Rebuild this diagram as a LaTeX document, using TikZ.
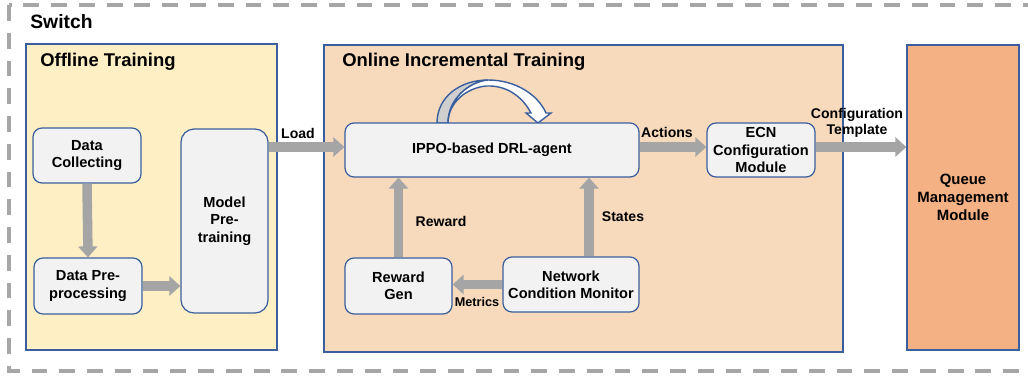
\documentclass[tikz,border=0pt]{standalone}
\usepackage{fontspec}
\setmainfont{Liberation Sans}
\usetikzlibrary{arrows.meta}

\definecolor{offfill}{HTML}{FFEFC4}
\definecolor{onfill}{HTML}{F7D9BB}
\definecolor{queuefill}{HTML}{F4B183}
\definecolor{boxblue}{HTML}{3B5F9E}
\definecolor{nodegray}{HTML}{F2F2F2}
\definecolor{arrowgray}{HTML}{A5A5A5}
\definecolor{dashgray}{HTML}{A6A6A6}
\definecolor{loopgray}{HTML}{CFCFCF}

\tikzset{
  box/.style={draw=boxblue, line width=0.7pt, fill=nodegray, rounded corners=0.18cm,
    align=center, inner sep=0pt, font=\fontsize{8.3}{9.9}\selectfont\bfseries},
  area/.style={draw=boxblue, line width=0.7pt},
  bigarrow/.style={draw=arrowgray, line width=1.9mm, -{Triangle[width=3.8mm,length=2.2mm]}},
  lbl/.style={inner sep=0pt, align=center, font=\fontsize{8}{9.2}\selectfont\bfseries},
  ttl/.style={anchor=west, inner sep=0pt, font=\fontsize{10.5}{12}\selectfont\bfseries},
}

\begin{document}
\begin{tikzpicture}[x=0.02cm,y=-0.02cm]
	%%%%% FRAME %%%%%
	\clip (0,0) rectangle (1028,379);
	\draw[dashgray, line width=2pt, dash pattern=on 9pt off 6.8pt] (9,5) rectangle (1060,371);
	\node[ttl, font=\fontsize{11}{13}\selectfont\bfseries] (switch) at (30,22) {Switch};
	
	%%%%% OFFLINE %%%%%
	\draw[area, fill=offfill] (26,44) rectangle (277,350);
	\node[ttl] (offtitle) at (40,62) {Offline Training};
	
	\node[box, minimum width=2.16cm, minimum height=1.1cm] (dc) at (87,155.5) {Data\\Collecting};
	\node[box, minimum width=2.16cm, minimum height=1.12cm] (dp) at (88,286) {Data Pre-\\processing};
	\node[box, rounded corners=0.26cm, minimum width=1.74cm, minimum height=3.68cm] (mp) at (224.5,221) {Model\\Pre-\\training};
	
	\draw[bigarrow] (dc.south) -- (dp.north);
	\draw[bigarrow] (dp.east) -- (dp.east -| mp.west);
	
	%%%%% ONLINE %%%%%
	\draw[area, fill=onfill] (324,45) rectangle (843,352);
	\node[ttl] (ontitle) at (342,62) {Online Incremental Training};
	
	% self loop over the agent
	\draw[boxblue, line width=0.8pt, fill=loopgray]
		(437,123) .. controls (437,97) and (460,80) .. (488,80)
		.. controls (468,82) and (448,100) .. (448,123) -- cycle;
	\draw[boxblue, line width=0.8pt, fill=white]
		(448,123) .. controls (448,100) and (468,82) .. (488,80)
		.. controls (516,80) and (538,95) .. (546,113)
		-- (551,113) -- (538,123) -- (526,113) -- (531,113)
		.. controls (522,96) and (506,85) .. (486,86)
		.. controls (466,88) and (448,103) .. (448,123) -- cycle;
	
	\node[box, minimum width=5.88cm, minimum height=1.08cm] (agent) at (492,150) {IPPO-based DRL-agent};
	\node[box, minimum width=2.16cm, minimum height=1.08cm] (ecn) at (761,150) {ECN\\Configuration\\Module};
	\node[box, minimum width=2.14cm, minimum height=1.12cm] (rg) at (398.5,286) {Reward\\Gen};
	\node[box, minimum width=2.72cm, minimum height=1.1cm] (ncm) at (571,284.5) {Network\\Condition Monitor};
	
	%%%%% QUEUE %%%%%
	\node[area, fill=queuefill, minimum width=2.24cm, minimum height=6.1cm, align=center,
		font=\fontsize{8.5}{10.4}\selectfont\bfseries] (qm) at (963,197.5) {Queue\\Management\\Module};
	
	%%%%% ARROWS %%%%%
	\coordinate (lane) at (0,147);
	\coordinate (stx) at (589,0);
	\draw[bigarrow] (mp.east |- lane) -- (agent.west |- lane);
	\draw[bigarrow] (agent.east |- lane) -- (ecn.west |- lane);
	\draw[bigarrow] (ecn.east |- lane) -- (qm.west |- lane);
	\draw[bigarrow] (rg.north) -- (rg.north |- agent.south);
	\draw[bigarrow] (stx |- ncm.north) -- (stx |- agent.south);
	\draw[bigarrow] (ncm.west) -- (ncm.west -| rg.east);
	
	\node[lbl] (load) at (298,133) {Load};
	\node[lbl] (actions) at (667,132) {Actions};
	\node[lbl] (template) at (857,123) {Configuration\\Template};
	\node[lbl] (reward) at (441,221) {Reward};
	\node[lbl] (states) at (623,217) {States};
	\node[lbl, font=\fontsize{7.2}{8.6}\selectfont\bfseries] (metrics) at (477,302) {Metrics};
\end{tikzpicture}
\end{document}
